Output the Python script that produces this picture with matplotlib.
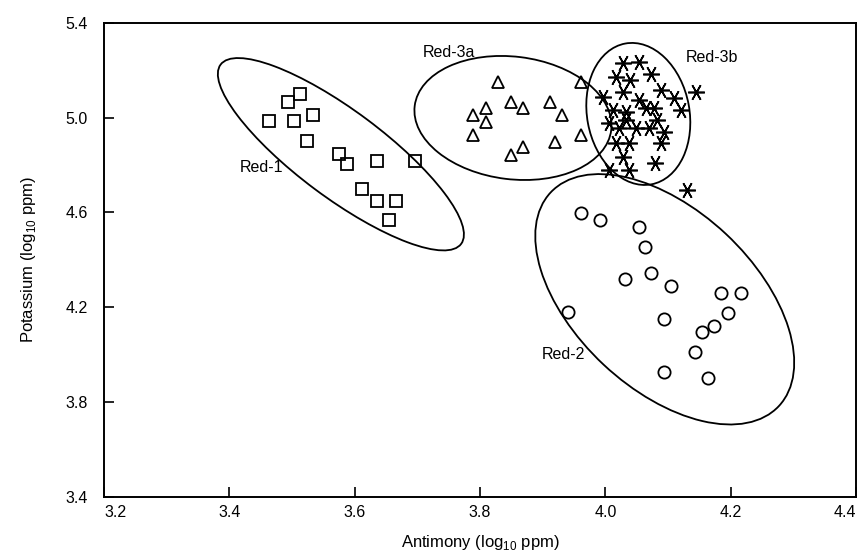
import matplotlib
matplotlib.use("Agg")
import matplotlib.pyplot as plt
from matplotlib.patches import Ellipse
from matplotlib.transforms import ScaledTranslation, IdentityTransform

plt.rcParams['font.family'] = ['Liberation Sans', 'DejaVu Sans']

# ---- data ----
red1_x = [3.463, 3.494, 3.513, 3.534, 3.503, 3.524, 3.575, 3.588, 3.636, 3.697,
          3.612, 3.636, 3.666, 3.655]
red1_y = [4.985, 5.067, 5.098, 5.011, 4.985, 4.901, 4.845, 4.804, 4.818, 4.818,
          4.697, 4.649, 4.649, 4.567]

red3a_x = [3.829, 3.961, 3.850, 3.869, 3.911, 3.809, 3.789, 3.931, 3.809, 3.789,
           3.961, 3.920, 3.869, 3.850]
red3a_y = [5.151, 5.151, 5.067, 5.039, 5.067, 5.039, 5.011, 5.011, 4.982, 4.926,
           4.926, 4.898, 4.874, 4.842]

red3b_x = [4.028, 4.053, 4.017, 4.039, 4.073, 3.996, 4.028, 4.054, 4.089, 4.110,
           4.145, 4.012, 4.033, 4.065, 4.078, 4.121, 4.006, 4.033, 4.083, 4.022,
           4.049, 4.070, 4.094, 4.017, 4.038, 4.089, 4.028, 4.080, 4.006, 4.038,
           4.131]
red3b_y = [5.229, 5.235, 5.172, 5.158, 5.182, 5.088, 5.109, 5.074, 5.116, 5.081,
           5.109, 5.032, 5.024, 5.039, 5.039, 5.032, 4.976, 4.989, 4.989, 4.954,
           4.954, 4.954, 4.940, 4.891, 4.891, 4.891, 4.835, 4.807, 4.778, 4.778,
           4.694]

red2_x = [3.961, 3.992, 4.053, 4.063, 4.073, 4.032, 4.104, 4.185, 4.216, 3.941,
          4.195, 4.093, 4.174, 4.154, 4.143, 4.093, 4.164]
red2_y = [4.596, 4.568, 4.539, 4.455, 4.345, 4.317, 4.289, 4.261, 4.261, 4.178,
          4.176, 4.150, 4.122, 4.094, 4.011, 3.927, 3.900]

x_ticks = [3.2, 3.4, 3.6, 3.8, 4.0, 4.2, 4.4]
y_ticks = [3.4, 3.8, 4.2, 4.6, 5.0, 5.4]

group_names = ['Red-1', 'Red-3a', 'Red-3b', 'Red-2']
label_pos = [(3.452, 4.791), (3.751, 5.276), (4.170, 5.255), (3.933, 4.002)]
# ellipse: centre (data), semi-axes (pixels), angle (deg)
ell_center = [(3.578, 4.845), (3.8526, 4.998), (4.0526, 5.015), (4.0948, 4.233)]
ell_axes = [(150.0, 43.5), (99.0, 61.3), (71.6, 51.2), (156.3, 89.5)]
ell_angle = [-36.7, -7.0, 100.5, -43.1]

# ---- figure ----
fig = plt.figure(figsize=(8.59, 5.54), dpi=100)
ax = fig.add_axes([104/859, 1-496.7/554, (856-104)/859, (496.7-22.7)/554])
ax.set_xlim(3.2, 4.4)
ax.set_ylim(3.4, 5.4)

mk = dict(linestyle='none', markerfacecolor='none', markeredgecolor='black',
          markeredgewidth=1.3, clip_on=False)
ax.plot(red1_x, red1_y, marker='s', markersize=8.6, **mk)
ax.plot(red3a_x, red3a_y, marker='^', markersize=9.2, **mk)
ax.plot(red2_x, red2_y, marker='o', markersize=8.8, **mk)
ax.plot(red3b_x, red3b_y, marker=(6, 2, 90), markersize=12, linestyle='none',
        color='black', markeredgewidth=1.2)

for (cx, cy), (a, b), ang in zip(ell_center, ell_axes, ell_angle):
    e = Ellipse((0, 0), 2*a, 2*b, angle=ang, fill=False, edgecolor='black',
                linewidth=1.3,
                transform=IdentityTransform() + ScaledTranslation(cx, cy, ax.transData))
    ax.add_patch(e)

for name, (tx, ty) in zip(group_names, label_pos):
    ax.text(tx, ty, name, ha='center', va='center', fontsize=11.5)

ax.set_xticks(x_ticks)
ax.set_xticklabels([f'{v:.1f}' for v in x_ticks])
ax.set_yticks(y_ticks)
ax.set_yticklabels([f'{v:.1f}' for v in y_ticks])
ax.tick_params(axis='both', direction='in', length=7, width=1.2, labelsize=11.5)
ax.tick_params(axis='x', pad=6)
ax.tick_params(axis='y', pad=11.5)
xl = ax.get_xticklabels()
xl[0].set_ha('left')
xl[-1].set_ha('right')
for sp in ax.spines.values():
    sp.set_linewidth(1.4)

ax.set_xlabel('Antimony (log$_{\\mathregular{10}}$ ppm)', fontsize=12, labelpad=9)
ax.set_ylabel('Potassium (log$_{\\mathregular{10}}$ ppm)', fontsize=12, labelpad=20)

fig.savefig('out.png', dpi=100)
